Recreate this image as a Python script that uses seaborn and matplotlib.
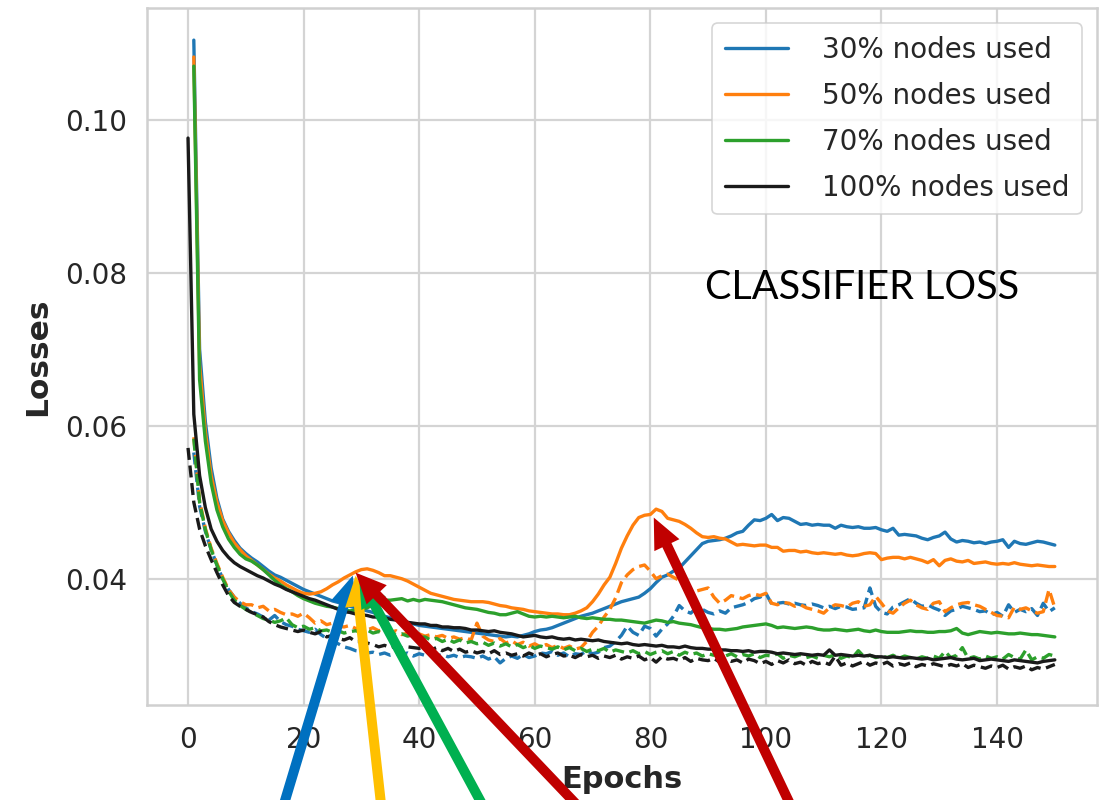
import numpy as np
import pandas as pd
import matplotlib
matplotlib.use("Agg")
import matplotlib.pyplot as plt
from matplotlib.lines import Line2D
import seaborn as sns

# ---------------- data (loss values in units of 1e-4) ----------------
labels = ["30% nodes used", "50% nodes used", "70% nodes used", "100% nodes used"]
colors = ["#1f77b4", "#ff7f0e", "#2ca02c", "#1a1a1a"]
x_ticks = [0, 20, 40, 60, 80, 100, 120, 140]
y_ticks = [0.04, 0.06, 0.08, 0.10]

# solid curves, 30/50/70 % start at epoch 1, 100 % starts at epoch 0
blue_train = [1104,700,605,545,505,478,462,450,440,433,
427,422,416,410,405,402,398,394,390,386,
383,380,377,374,371,369,366,364,362,360,
358,356,353,351,349,347,345,343,341,339,
338,337,336,335,334,333,332,331,330,329,
328,327,326,325,324,325,324,326,328,331,
333,334,336,339,342,345,348,351,353,355,
358,361,364,367,370,372,374,376,381,387,
395,402,405,410,414,422,430,438,446,449,
450,451,453,456,460,462,470,477,476,479,
484,476,480,479,475,471,472,470,471,470,
470,466,470,468,467,468,466,466,467,464,
462,466,457,458,457,456,453,451,454,456,
461,452,448,450,449,447,448,446,448,449,
451,441,449,446,445,447,449,448,446,444]

orange_train = [1082,680,592,535,500,476,460,447,438,430,
424,418,412,406,401,397,392,388,384,381,
380,381,383,387,392,396,401,405,409,412,
413,411,408,404,404,402,400,397,393,389,
385,381,379,377,375,373,372,371,370,370,
370,369,367,365,364,362,361,360,358,357,
356,355,354,354,353,353,355,358,362,370,
380,392,402,420,440,456,470,480,483,484,
491,488,479,477,475,471,466,460,455,454,
455,453,452,448,444,445,444,443,444,444,
441,441,436,437,437,435,436,434,433,434,
433,432,433,431,430,431,433,434,433,425,
427,428,428,426,428,426,424,421,425,417,
424,426,423,422,424,420,421,422,420,419,
420,419,421,419,418,417,418,417,416,416]

green_train = [1070,660,580,525,490,468,452,441,432,426,
423,418,412,405,398,392,387,383,378,374,
371,368,366,364,363,361,360,358,359,360,
362,366,370,372,372,373,374,371,373,371,
373,372,371,370,368,366,364,362,361,360,
358,356,355,353,353,355,357,354,351,350,
351,350,351,350,349,350,351,349,348,349,
348,347,347,346,346,345,344,343,342,344,
346,345,343,344,342,341,340,338,336,335,
334,334,333,334,335,337,338,339,340,341,
339,336,337,336,335,336,337,336,334,333,
333,334,333,332,333,334,332,331,333,331,
330,330,330,331,332,331,331,330,330,331,
331,332,335,329,327,329,331,330,329,330,
329,328,328,329,328,327,327,326,325,324]

black_train = [976,615,535,493,465,449,437,428,421,416,
412,408,404,401,397,393,390,386,383,380,
377,374,372,369,366,363,360,357,356,354,
353,352,350,350,349,347,346,344,343,342,
341,341,339,339,337,337,336,336,335,333,
333,332,331,332,330,329,328,326,324,325,
326,324,323,324,322,321,322,320,321,320,
319,320,318,317,316,315,316,314,313,314,
313,312,313,311,311,310,312,310,309,309,
308,308,307,307,306,306,305,306,304,305,
305,304,302,303,302,301,302,301,300,301,
300,307,300,301,300,299,300,299,300,298,
298,297,298,297,296,297,296,295,296,294,
295,296,297,295,294,295,296,293,294,295,
294,293,292,294,293,292,291,290,292,293,
294]

# dashed curves
blue_val = [565,495,462,438,418,400,386,376,368,362,
357,354,350,346,352,344,340,338,334,332,
330,334,327,322,318,315,311,309,306,305,
303,304,301,303,300,302,301,303,299,302,
300,302,299,301,298,300,297,299,298,296,
299,295,298,290,296,299,296,301,297,299,
303,302,305,300,303,298,302,301,306,302,
304,310,312,318,326,338,330,326,338,335,
325,334,341,351,365,358,355,362,360,356,
354,358,355,362,364,366,369,374,376,381,
367,368,369,367,368,366,365,367,365,362,
364,361,364,363,360,361,362,388,364,356,
354,363,366,370,374,368,364,366,362,359,
352,358,360,364,362,360,357,358,353,356,
351,366,356,360,357,361,352,368,357,362]

orange_val = [585,502,466,440,420,402,386,376,370,366,
366,362,364,358,360,356,353,354,351,355,
349,342,345,340,342,338,337,339,335,337,
333,336,332,334,330,332,327,329,326,328,
325,327,324,326,322,324,321,323,320,342,
325,320,318,322,316,319,314,317,312,315,
311,314,310,313,309,312,308,310,318,330,
338,350,360,375,395,405,412,416,418,410,
400,404,406,402,398,392,386,384,386,388,
376,368,372,378,376,374,378,380,378,381,
368,366,369,368,364,366,362,360,358,355,
362,366,365,363,368,370,364,366,377,368,
358,355,362,368,372,366,362,360,368,370,
357,362,366,368,369,366,364,360,356,352,
351,349,363,360,362,358,355,357,386,362]

green_val = [583,500,464,438,418,400,384,372,365,360,
356,352,348,346,343,345,349,340,336,338,
334,336,332,333,330,332,329,331,332,330,
333,329,331,328,330,326,328,325,327,323,
324,320,322,318,321,317,320,316,318,315,
317,313,316,312,315,311,314,310,313,309,
312,310,308,311,307,310,306,309,305,308,
306,309,304,307,305,303,306,302,305,301,
304,306,302,305,300,304,301,303,299,302,
300,303,299,302,298,301,299,302,297,300,
299,302,296,300,298,301,297,299,296,300,
298,301,296,299,297,306,298,300,297,299,
297,300,296,299,297,295,298,296,299,296,
305,297,300,310,296,298,295,299,296,298,
295,301,297,295,307,294,298,296,301,299]

black_val = [571,500,465,443,425,408,392,378,369,364,
360,356,353,350,344,340,337,335,333,331,
333,330,328,331,324,326,322,320,323,318,
318,316,314,311,313,310,312,309,311,310,
309,312,307,310,306,309,305,308,304,306,
303,305,302,306,301,303,300,302,299,303,
300,302,298,301,303,299,300,297,301,298,
300,296,299,297,300,295,298,296,299,294,
297,291,298,295,296,293,297,292,296,294,
293,296,291,295,292,294,290,295,293,289,
292,288,293,290,294,289,291,287,292,289,
291,288,299,287,290,286,289,292,287,290,
288,291,286,289,287,290,285,288,286,289,
287,285,288,286,289,284,287,285,283,286,
284,287,282,285,283,286,281,284,282,285,
288]

for arr in (blue_train, orange_train, green_train, blue_val, orange_val, green_val):
    assert len(arr) == 150, len(arr)
assert len(black_train) == 151 and len(black_val) == 151

SCALE = 1e-4
train_sets = [blue_train, orange_train, green_train, black_train]
val_sets = [blue_val, orange_val, green_val, black_val]
start_epochs = [1, 1, 1, 0]

# ---------------- figure ----------------
sns.set_theme(style="whitegrid")
plt.rcParams["font.family"] = ["DejaVu Sans"]

fig = plt.figure(figsize=(10.99, 8.0), dpi=100)
ax = fig.add_axes([147 / 1099, 95 / 800, (1097 - 147) / 1099, (792 - 95) / 800])

LW = 2.4
for tr, va, st, col in zip(train_sets, val_sets, start_epochs, colors):
    ep = np.arange(st, st + len(tr))
    df = pd.DataFrame({"epoch": ep, "train": np.array(tr) * SCALE,
                       "val": np.array(va) * SCALE})
    sns.lineplot(data=df, x="epoch", y="train", color=col, lw=LW, ax=ax)
    sns.lineplot(data=df, x="epoch", y="val", color=col, lw=LW,
                 dashes=False, ax=ax).lines[-1].set_dashes((3.6, 1.7))

ax.set_xlim(-7.1, 157.3)
ax.set_ylim(0.0235, 0.1146)
ax.set_xticks(x_ticks)
ax.set_yticks(y_ticks)
ax.set_yticklabels([f"{v:.2f}" for v in y_ticks])
ax.tick_params(axis="both", labelsize=20, colors="#262626", length=0)
ax.tick_params(axis="x", pad=15)
ax.tick_params(axis="y", pad=14)
ax.grid(True, lw=1.6, color="#d4d4d4")
for s in ax.spines.values():
    s.set_linewidth(1.8)
    s.set_color("#d0d0d0")

ax.set_xlabel("Epochs", fontsize=22, fontweight="bold", color="#262626", labelpad=8)
ax.set_ylabel("Losses", fontsize=22.5, fontweight="bold", color="#262626", labelpad=10)

handles = [Line2D([0], [0], color=c, lw=LW) for c in colors]
leg = ax.legend(handles, labels, loc="upper right", fontsize=20, frameon=True,
                handlelength=2.3, handletextpad=1.2, borderpad=0.45,
                labelspacing=0.65, borderaxespad=0.55)
leg.get_frame().set_edgecolor("#cccccc")
leg.get_frame().set_linewidth(1.2)
for t in leg.get_texts():
    t.set_color("#262626")

ax.text(89.4, 0.0766, "CLASSIFIER LOSS", fontsize=28.5, family=["Lato", "DejaVu Sans"],
        color="black", ha="left", va="baseline")

# annotation arrows
arrow_style = "simple,head_length=1.1,head_width=1.0,tail_width=0.36"
arrows = [
    ((28.5, 0.0404), 284, "#0070C0"),
    ((29.0, 0.0404), 381, "#FFC000"),
    ((29.6, 0.0403), 482, "#00B050"),
    ((29.0, 0.0408), 576, "#C00000"),
    ((80.6, 0.0480), 790, "#C00000"),
]
for tip, tail_px, col in arrows:
    ax.annotate("", xy=tip, xycoords="data",
                xytext=(tail_px / 1099, -0.005), textcoords="figure fraction",
                arrowprops=dict(arrowstyle=arrow_style, mutation_scale=20,
                                color=col, lw=0, shrinkA=0, shrinkB=0),
                annotation_clip=False, zorder=5)

fig.savefig("out.png", dpi=100)
